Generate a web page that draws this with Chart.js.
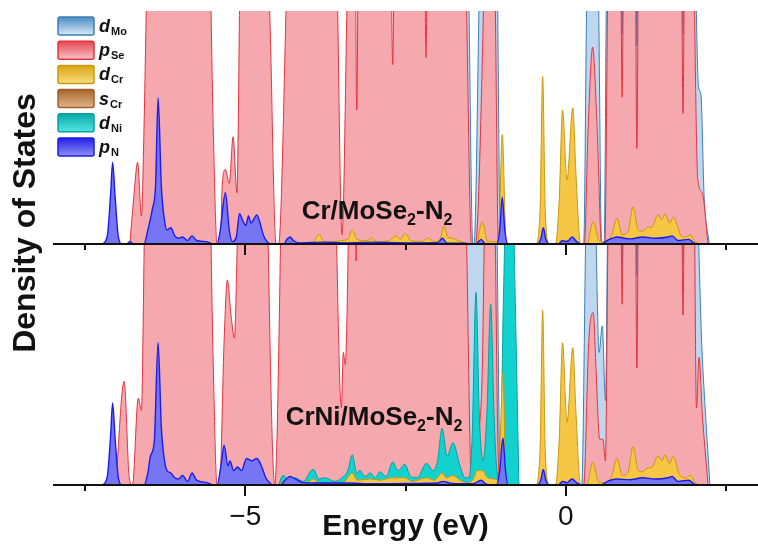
<!DOCTYPE html>
<html>
<head>
<meta charset="utf-8">
<script src="https://cdn.jsdelivr.net/npm/chart.js@4.4.0/dist/chart.umd.min.js"></script>
<style>
  html, body { margin: 0; padding: 0; background: #fff; overflow: hidden; }
  #wrap { position: relative; width: 758px; height: 548px; }
  #wrap canvas { position: absolute; left: 0; top: 0; }
</style>
</head>
<body>
<div id="wrap">
  <canvas id="lower" width="758" height="548"></canvas>
  <canvas id="upper" width="758" height="548"></canvas>
</div>
<script>
// energy axis (eV)
const tickMarks = [-7.5, -5, -2.5, 0, 2.5];
const labelledTicks = [-5, 0];

// ---- Cr/MoSe2-N2 : [energy, DOS] ----
const dMoTop = [[-1.70,0],[-1.62,12],[-1.53,12],[-1.45,0],[-1.43,0],[-1.34,12],[-1.2,25],[-1.07,12],[-1.02,0],
  [0.28,0],[0.34,12],[0.50,12],[0.56,0],
  [0.60,0],[0.64,12],[0.85,20],[0.88,9],[0.91,20],[1.08,20],[1.11,8.5],[1.14,20],[1.80,20],[1.83,9],[1.86,20],
  [2.02,12],[2.07,6.8],[2.11,6.4],[2.16,2],[2.24,0]];
const pSeTop = [[-6.80,0],[-6.74,2.0],[-6.68,3.5],[-6.62,1.2],[-6.58,5],[-6.53,12],[-6.3,30],[-5.8,30],[-5.55,12],[-5.50,5],[-5.44,0],
  [-5.39,0],[-5.36,2.5],[-5.31,3.2],[-5.25,2.6],[-5.19,4.6],[-5.13,2.2],[-5.08,12],[-4.9,30],[-4.70,14],[-4.62,10],[-4.52,0],
  [-4.48,0],[-4.36,10.5],[-4.2,30],[-3.7,30],[-3.57,12],[-3.49,0.4],[-3.40,12],[-3.30,20],[-3.26,5.75],[-3.22,20],
  [-2.75,20],[-2.70,7.7],[-2.65,20],[-2.22,20],[-2.18,8.0],[-2.14,20],[-1.62,20],[-1.55,10.5],[-1.47,0],
  [-1.41,0],[-1.28,10.5],[-1.19,25],[-1.10,10.5],[-1.05,0],
  [0.29,0],[0.35,5],[0.42,8.45],[0.49,5],[0.56,0],
  [0.61,0],[0.66,12],[0.75,20],[0.84,20],[0.88,6.3],[0.92,20],[1.07,20],[1.11,4.1],[1.15,20],[1.79,20],[1.83,5.6],[1.87,20],
  [1.97,20],[2.02,8],[2.06,2.8],[2.13,2.2],[2.22,0]];
const dCrTop = [[-4.0,0],[-3.93,0.1],[-3.85,0.4],[-3.77,0.1],[-3.6,0.1],[-3.52,0.15],[-3.40,0.2],[-3.33,0.6],[-3.26,0.2],
  [-3.10,0.15],[-3.03,0.25],[-2.95,0.1],[-2.75,0.15],[-2.65,0.35],[-2.58,0.2],[-2.50,0.45],[-2.42,0.15],[-2.25,0.1],
  [-2.15,0.25],[-2.05,0.1],[-1.95,0.3],[-1.90,0.77],[-1.84,0.3],[-1.77,0.25],[-1.68,0.15],[-1.58,0.05],
  [-1.40,0],[-1.30,0.95],[-1.22,0.1],[-1.05,0.1],[-0.99,4.7],[-0.93,0.1],[-0.87,0],
  [-0.47,0],[-0.40,1.5],[-0.36,7.2],[-0.32,1.5],[-0.26,0],
  [-0.16,0],[-0.10,2],[-0.05,5.75],[0.02,2.75],[0.11,5.85],[0.16,3],[0.23,0],
  [0.33,0],[0.43,0.95],[0.53,0.1],[0.65,0.1],[0.72,0.4],[0.80,1.1],[0.88,0.4],[0.97,0.5],[1.05,1.6],[1.13,0.6],
  [1.20,0.55],[1.27,0.7],[1.35,0.75],[1.44,1.25],[1.50,1.05],[1.55,1.3],[1.62,0.9],[1.68,1.15],[1.75,0.7],
  [1.80,0.35],[1.87,0.3],[1.94,0.4],[2.02,0.1],[2.10,0]];
const sCrTop = [[-7.2,0],[-7.13,0.15],[-7.07,0.7],[-7.01,0.15],[-6.95,0],[-0.05,0],[0.02,0.15],[0.09,0]];
const dNiTop = [];
const pNTop = [[-7.22,0],[-7.15,0.4],[-7.10,2.2],[-7.07,3.5],[-7.03,2.0],[-6.98,0.3],[-6.92,0],[-6.85,0],[-6.80,0.1],[-6.74,0],
  [-6.58,0],[-6.52,0.6],[-6.45,1.5],[-6.40,2.5],[-6.36,6.27],[-6.31,2.5],[-6.26,1.0],[-6.22,0.6],[-6.16,0.7],[-6.10,0.35],
  [-6.04,0.25],[-5.98,0.3],[-5.90,0.15],[-5.83,0.35],[-5.76,0.15],[-5.6,0.1],[-5.50,0],
  [-5.44,0],[-5.39,0.6],[-5.31,2.2],[-5.25,0.6],[-5.20,0.1],[-5.14,0.3],[-5.09,1.3],[-5.04,1.0],[-4.99,0.8],[-4.95,1.2],
  [-4.91,0.9],[-4.86,1.1],[-4.82,1.25],[-4.78,1.0],[-4.72,0.4],[-4.66,0.1],[-4.60,0],
  [-4.40,0],[-4.35,0.2],[-4.30,0.3],[-4.25,0.15],[-4.15,0.05],[-3.8,0.08],[-3.4,0.05],[-3.0,0.08],[-2.5,0.05],[-2.0,0.06],
  [-1.92,0.25],[-1.86,0.05],[-1.6,0.03],[-1.4,0],[-1.32,0.2],[-1.25,0],
  [-1.08,0],[-1.03,0.6],[-0.99,2.0],[-0.95,0.6],[-0.90,0],
  [-0.45,0],[-0.39,0.2],[-0.35,0.7],[-0.31,0.2],[-0.25,0],
  [-0.12,0],[-0.05,0.15],[0.02,0.1],[0.10,0.3],[0.17,0.1],[0.25,0],
  [0.55,0],[0.65,0.15],[0.8,0.3],[1.0,0.22],[1.2,0.3],[1.4,0.25],[1.6,0.3],[1.66,0.35],[1.75,0.15],[1.92,0.2],[2.0,0.05],[2.08,0]];

// ---- CrNi/MoSe2-N2 : [energy, DOS] ----
const dMoBot = [[-1.70,0],[-1.62,12],[-1.3,25],[-1.08,12],[-1.02,0],
  [0.25,0],[0.33,12],[0.45,12],[0.52,5.5],[0.57,6.6],[0.62,3.5],[0.66,12],[0.85,20],[0.88,9.3],[0.91,20],[1.08,20],
  [1.11,8.7],[1.14,20],[1.80,20],[1.83,9.2],[1.86,20],[2.05,12],[2.12,6],[2.18,3],[2.25,0]];
const pSeBot = [[-7.02,0],[-6.89,4.3],[-6.81,0.3],[-6.76,0],[-6.67,3.6],[-6.62,3.1],[-6.57,11],[-6.3,30],[-5.8,30],[-5.55,12],
  [-5.50,5],[-5.44,0],[-5.40,0],[-5.33,6],[-5.28,8.5],[-5.22,7],[-5.17,6.1],[-5.12,10.5],[-4.9,30],[-4.72,20],[-4.54,0],
  [-4.38,20],[-4.1,30],[-3.62,15],[-3.50,3.2],[-3.47,5.5],[-3.44,5.0],[-3.36,15],[-3.30,20],[-3.27,9.3],[-3.24,20],
  [-1.65,20],[-1.55,10.5],[-1.47,0],[-1.42,0],[-1.36,2],[-1.30,5],[-1.27,10.5],[-1.18,25],[-1.10,10.5],[-1.06,2],[-1.02,0],
  [0.28,0],[0.36,6],[0.43,7.15],[0.47,5],[0.53,1.9],[0.58,1.9],[0.62,1.0],[0.66,10.5],[0.75,20],[0.84,20],[0.88,7.5],
  [0.92,20],[1.07,20],[1.11,4.85],[1.15,20],[1.79,20],[1.83,7.05],[1.87,20],[1.98,20],[2.04,3.2],[2.08,5.3],[2.13,3],[2.22,0]];
const dCrBot = [[-4.45,0],[-4.40,0.2],[-4.3,0.1],[-4.0,0.15],[-3.94,0.25],[-3.85,0.1],[-3.6,0.1],[-3.45,0.15],[-3.33,0.5],
  [-3.25,0.2],[-3.05,0.25],[-2.90,0.2],[-2.70,0.3],[-2.51,0.3],[-2.4,0.15],[-2.17,0.3],[-2.05,0.2],[-1.93,0.5],[-1.86,0.3],
  [-1.76,0.4],[-1.65,0.2],[-1.55,0.1],[-1.45,0.2],[-1.38,0.6],[-1.30,0.6],[-1.22,0.3],[-1.12,0.25],[-1.05,0.2],
  [-0.98,4.65],[-0.93,0.1],[-0.87,0],
  [-0.47,0],[-0.40,1.5],[-0.36,7.25],[-0.32,1.5],[-0.26,0],
  [-0.16,0],[-0.10,2],[-0.05,5.9],[0.02,2.6],[0.11,5.7],[0.16,3],[0.23,0],
  [0.33,0],[0.42,0.95],[0.52,0.1],[0.65,0.1],[0.72,0.4],[0.80,1.1],[0.88,0.4],[0.97,0.5],[1.05,1.6],[1.13,0.6],
  [1.20,0.55],[1.27,0.7],[1.35,0.75],[1.44,1.2],[1.50,1.0],[1.55,1.25],[1.62,0.9],[1.68,1.2],[1.75,0.6],
  [1.80,0.35],[1.87,0.3],[1.94,0.4],[2.02,0.1],[2.10,0]];
const sCrBot = [[-7.2,0],[-7.13,0.15],[-7.07,0.65],[-7.01,0.15],[-6.95,0]];
const dNiBot = [[-4.48,0],[-4.41,0.4],[-4.32,0.2],[-4.22,0.3],[-4.10,0.15],[-3.94,0.65],[-3.85,0.25],[-3.76,0.3],[-3.60,0.15],
  [-3.49,0.3],[-3.40,0.6],[-3.33,1.25],[-3.26,0.5],[-3.21,0.6],[-3.13,0.35],[-3.05,0.5],[-2.97,0.3],[-2.90,0.55],[-2.80,0.35],
  [-2.70,0.95],[-2.62,0.6],[-2.51,0.85],[-2.42,0.35],[-2.32,0.3],[-2.17,0.9],[-2.07,0.6],[-2.00,1.0],[-1.93,2.35],[-1.85,1.2],
  [-1.76,1.75],[-1.65,0.8],[-1.57,0.3],[-1.51,0.3],[-1.46,2],[-1.40,8.0],[-1.35,3],[-1.29,1.0],[-1.23,3],[-1.17,7.5],
  [-1.12,3],[-1.07,0.5],[-1.03,0.2],[-0.97,8],[-0.91,14],[-0.84,14],[-0.79,8],[-0.73,0]];
const pNBot = [[-7.22,0],[-7.15,0.4],[-7.10,2.1],[-7.07,3.4],[-7.03,1.9],[-6.98,0.3],[-6.92,0],
  [-6.58,0],[-6.52,0.5],[-6.48,1.2],[-6.42,1.8],[-6.36,5.9],[-6.31,2.4],[-6.26,1.0],[-6.22,0.6],[-6.16,0.5],[-6.10,0.3],
  [-6.04,0.25],[-5.98,0.4],[-5.90,0.15],[-5.83,0.5],[-5.76,0.2],[-5.6,0.1],[-5.50,0],
  [-5.44,0],[-5.38,0.8],[-5.33,1.65],[-5.27,0.8],[-5.24,1.0],[-5.18,0.6],[-5.12,0.75],[-5.06,0.6],[-4.98,1.1],[-4.90,1.0],
  [-4.82,1.1],[-4.75,0.8],[-4.68,0.3],[-4.62,0.1],[-4.57,0],
  [-4.45,0],[-4.38,0.2],[-4.30,0.35],[-4.22,0.25],[-4.10,0.1],[-3.8,0.08],[-3.4,0.08],[-3.0,0.05],[-2.5,0.06],[-2.0,0.08],
  [-1.92,0.15],[-1.80,0.08],[-1.6,0.05],[-1.45,0.05],[-1.32,0.2],[-1.25,0.05],[-1.08,0],
  [-1.03,0.6],[-0.98,1.95],[-0.94,0.6],[-0.90,0],
  [-0.45,0],[-0.39,0.2],[-0.35,0.65],[-0.31,0.2],[-0.25,0],
  [-0.12,0],[-0.05,0.15],[0.02,0.1],[0.10,0.25],[0.17,0.1],[0.25,0],
  [0.55,0],[0.65,0.15],[0.8,0.25],[1.0,0.22],[1.2,0.3],[1.4,0.25],[1.6,0.3],[1.66,0.35],[1.75,0.15],[1.92,0.2],[2.0,0.05],[2.08,0]];

const FONT = "'Liberation Sans', Arial, Helvetica, sans-serif";

// legend order = drawing styles; lower "order" is painted on top
const orbitals = [
  { base: 'd', sub: 'Mo', fill: '#bed7ee', line: '#3b7fb6', grad: ['#4d8cc4', '#d6e8f7'], width: 1, order: 6 },
  { base: 'p', sub: 'Se', fill: '#f5a8ae', line: '#e2333f', grad: ['#e5434f', '#f9c3c7'], width: 1, order: 5 },
  { base: 'd', sub: 'Cr', fill: '#f6c744', line: '#c9980f', grad: ['#d9a514', '#fadc7a'], width: 1, order: 3 },
  { base: 's', sub: 'Cr', fill: '#c98a50', line: '#a0602a', grad: ['#a9652c', '#e1b48a'], width: 1, order: 2 },
  { base: 'd', sub: 'Ni', fill: '#12d2cf', line: '#0a9e9e', grad: ['#0aa9a9', '#4fe6e2'], width: 1, order: 4 },
  { base: 'p', sub: 'N',  fill: '#7676f4', line: '#1c1ce8', grad: ['#2020e6', '#8f8ff7'], width: 1.4, order: 1 }
];

function makeDatasets(series) {
  return orbitals.map((o, i) => ({
    label: o.base + o.sub,
    data: series[i].map(([e, v]) => ({ x: e, y: v })),
    backgroundColor: o.fill,
    borderColor: o.line,
    borderWidth: o.width,
    fill: 'origin',
    pointRadius: 0,
    cubicInterpolationMode: 'monotone',
    order: o.order
  }));
}

function drawFormula(ctx, parts, cx, baseline) {
  const big = 'bold 26px ' + FONT, small = 'bold 16px ' + FONT;
  let total = 0;
  parts.forEach(([t, sub]) => { ctx.font = sub ? small : big; total += ctx.measureText(t).width; });
  let x = cx - total / 2;
  ctx.fillStyle = '#111';
  ctx.textAlign = 'left';
  ctx.textBaseline = 'alphabetic';
  parts.forEach(([t, sub]) => {
    ctx.font = sub ? small : big;
    ctx.fillText(t, x, baseline + (sub ? 6 : 0));
    x += ctx.measureText(t).width;
  });
}

function drawLegend(ctx) {
  orbitals.forEach((o, i) => {
    const top = 17 + i * 24.2, h = 18, left = 58, w = 36;
    const g = ctx.createLinearGradient(0, top, 0, top + h);
    g.addColorStop(0, o.grad[0]);
    g.addColorStop(1, o.grad[1]);
    ctx.fillStyle = g;
    ctx.strokeStyle = o.line;
    ctx.lineWidth = 1.5;
    ctx.beginPath();
    ctx.roundRect(left, top, w, h, 2);
    ctx.fill();
    ctx.stroke();
    const mid = top + h / 2;
    ctx.fillStyle = '#111';
    ctx.textAlign = 'left';
    ctx.textBaseline = 'alphabetic';
    ctx.font = 'italic bold 18px ' + FONT;
    ctx.fillText(o.base, 99, mid + 6);
    const bw = ctx.measureText(o.base).width;
    ctx.font = 'bold 11px ' + FONT;
    ctx.fillText(o.sub, 99 + bw + 1, mid + 9);
  });
}

// axis line, tick marks and captions for each panel
const panelDecor = {
  id: 'panelDecor',
  afterDraw(chart, args, opts) {
    const { ctx, chartArea: { left, bottom }, scales: { x } } = chart;
    ctx.save();
    ctx.strokeStyle = '#111';
    ctx.lineWidth = 2;
    ctx.beginPath();
    ctx.moveTo(left, bottom);
    ctx.lineTo(chart.width, bottom);
    ctx.stroke();
    tickMarks.forEach(e => {
      const px = Math.round(x.getPixelForValue(e));
      const len = labelledTicks.includes(e) ? 11 : 6;
      ctx.beginPath();
      ctx.moveTo(px, bottom);
      ctx.lineTo(px, bottom + len);
      ctx.stroke();
    });
    drawFormula(ctx, opts.label, opts.cx, opts.baseline);
    if (opts.withLegend) {
      drawLegend(ctx);
      ctx.save();
      ctx.translate(26, 223);
      ctx.rotate(-Math.PI / 2);
      ctx.font = 'bold 32px ' + FONT;
      ctx.fillStyle = '#111';
      ctx.textAlign = 'center';
      ctx.textBaseline = 'middle';
      ctx.fillText('Density of States', 0, 0);
      ctx.restore();
    }
    ctx.restore();
  }
};

function panelOptions(lower, decor) {
  return {
    responsive: false,
    animation: false,
    devicePixelRatio: 1,
    layout: {
      padding: lower ? { left: 53, right: 0, top: 244, bottom: 0 }
                     : { left: 53, right: 0, top: 11, bottom: 304 }
    },
    plugins: { legend: { display: false }, tooltip: { enabled: false }, panelDecor: decor },
    scales: {
      x: {
        type: 'linear', min: -8, max: 3, display: lower,
        grid: { display: false, drawTicks: false },
        border: { display: false },
        afterBuildTicks: s => { s.ticks = labelledTicks.map(v => ({ value: v })); },
        afterFit: s => { s.height = lower ? 63 : 0; },
        ticks: {
          padding: 15, maxRotation: 0, color: '#111',
          font: { family: FONT, size: 28 },
          callback: v => (v < 0 ? '\u2212' + Math.abs(v) : String(v))
        },
        title: {
          display: true, text: 'Energy (eV)', color: '#111',
          font: { family: FONT, size: 30, weight: 'bold' },
          padding: { top: 0, bottom: 3 }
        }
      },
      y: { min: 0, max: 10, display: false }
    }
  };
}

new Chart(document.getElementById('lower'), {
  type: 'line',
  data: { datasets: makeDatasets([dMoBot, pSeBot, dCrBot, sCrBot, dNiBot, pNBot]) },
  options: panelOptions(true, {
    label: [['CrNi/MoSe', false], ['2', true], ['-N', false], ['2', true]], cx: 374, baseline: 425
  }),
  plugins: [panelDecor]
});

new Chart(document.getElementById('upper'), {
  type: 'line',
  data: { datasets: makeDatasets([dMoTop, pSeTop, dCrTop, sCrTop, dNiTop, pNTop]) },
  options: panelOptions(false, {
    label: [['Cr/MoSe', false], ['2', true], ['-N', false], ['2', true]], cx: 377, baseline: 219, withLegend: true
  }),
  plugins: [panelDecor]
});
</script>
</body>
</html>
